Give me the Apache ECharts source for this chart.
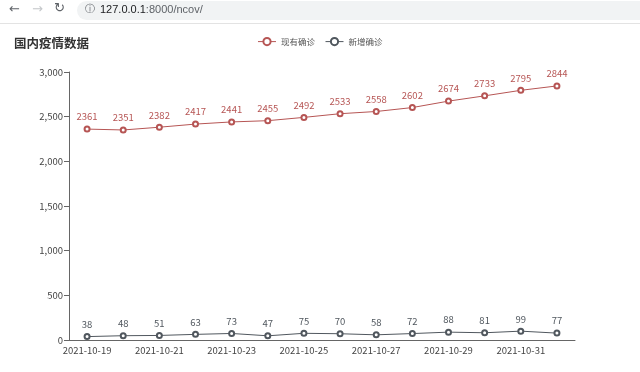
<!DOCTYPE html>
<html>
<head>
<meta charset="utf-8">
<script src="https://cdn.jsdelivr.net/npm/echarts@6/dist/echarts.min.js"></script>
<style>html,body{margin:0;padding:0;background:#fff;}#c{width:640px;height:372px;}</style>
</head>
<body>
<div id="c"></div>
<script>
var dates = ['2021-10-19','2021-10-20','2021-10-21','2021-10-22','2021-10-23','2021-10-24','2021-10-25','2021-10-26','2021-10-27','2021-10-28','2021-10-29','2021-10-30','2021-10-31','2021-11-01'];
var current = [2361,2351,2382,2417,2441,2455,2492,2533,2558,2602,2674,2733,2795,2844];
var added = [38,48,51,63,73,47,75,70,58,72,88,81,99,77];
var yTicks = {min: 0, max: 3000, interval: 500};

var chart = echarts.init(document.getElementById('c'));
var font = '"Noto Sans CJK SC", "Liberation Sans", sans-serif';
var red = '#b65554', gray = '#50575e';
chart.setOption({
  animation: false,
  textStyle: {fontFamily: font},
  graphic: [
    {type: 'rect', shape: {x: 77, y: 1, width: 600, height: 19, r: 10}, style: {fill: '#f1f3f4'}, z: 2},
    {type: 'text', x: 9, y: 3, style: {text: '←', fill: '#5f6368', font: '13px "DejaVu Sans"'}, z: 3},
    {type: 'text', x: 32, y: 3, style: {text: '→', fill: '#c4c7ca', font: '13px "DejaVu Sans"'}, z: 3},
    {type: 'text', x: 54, y: 2, style: {text: '↻', fill: '#5f6368', font: '13px "DejaVu Sans"'}, z: 3},
    {type: 'text', x: 85, y: 4, style: {text: 'ⓘ', fill: '#5f6368', font: '10px "DejaVu Sans"'}, z: 3},
    {type: 'text', x: 100, y: 4, style: {rich: {a: {fill: '#202124', font: '11px "Liberation Sans"'}, b: {fill: '#5f6368', font: '11px "Liberation Sans"'}}, text: '{a|127.0.0.1}{b|:8000/ncov/}'}, z: 3},
    {type: 'line', shape: {x1: 0, y1: 23.5, x2: 640, y2: 23.5}, style: {stroke: '#e3e3e3', lineWidth: 1}, z: 3}
  ],
  title: {text: '国内疫情数据', left: 9, top: 32, textStyle: {fontSize: 12.5, fontWeight: 'bold', color: '#333', fontFamily: font}},
  legend: {
    left: 'center', top: 32, itemWidth: 18, itemHeight: 9, itemGap: 10,
    itemStyle: {borderWidth: 1},
    lineStyle: {width: 1},
    textStyle: {fontSize: 8.5, color: '#555'},
    data: ['现有确诊', '新增确诊']
  },
  grid: {left: 69, right: 65, top: 72, bottom: 32},
  xAxis: {
    type: 'category', data: dates, boundaryGap: true,
    axisLine: {lineStyle: {color: '#666', width: 1}},
    axisTick: {lineStyle: {color: '#666'}},
    axisLabel: {fontSize: 9.5, color: '#444', margin: 6}
  },
  yAxis: {
    type: 'value', min: yTicks.min, max: yTicks.max, interval: yTicks.interval,
    axisLine: {show: true, lineStyle: {color: '#666'}},
    axisTick: {show: true, lineStyle: {color: '#666'}},
    splitLine: {show: false},
    axisLabel: {fontSize: 9.5, color: '#444', margin: 6}
  },
  series: [
    {name: '现有确诊', type: 'line', data: current, symbol: 'emptyCircle', symbolSize: 5,
     itemStyle: {color: red, borderWidth: 1}, lineStyle: {width: 1, color: red},
     label: {show: true, position: 'top', fontSize: 9.5, color: red, distance: 4}},
    {name: '新增确诊', type: 'line', data: added, symbol: 'emptyCircle', symbolSize: 5,
     itemStyle: {color: gray, borderWidth: 1}, lineStyle: {width: 1, color: gray},
     label: {show: true, position: 'top', fontSize: 9.5, color: gray, distance: 4}}
  ]
});
</script>
</body>
</html>
